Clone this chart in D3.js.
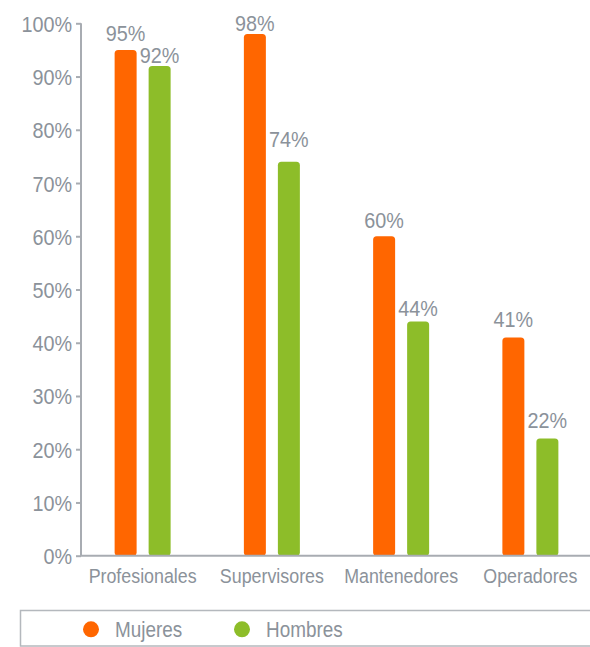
<!DOCTYPE html>
<html><head><meta charset="utf-8">
<script src="https://cdn.jsdelivr.net/npm/d3@7"></script>
<style>
body{margin:0;background:#fff;}
svg{display:block;}
text{font-family:"Liberation Sans",Arial,sans-serif;fill:#8b929a;}
</style></head>
<body>
<svg id="c" width="590" height="647"></svg>
<script>
const categories = ["Profesionales","Supervisores","Mantenedores","Operadores"];
const seriesNames = ["Mujeres","Hombres"];
const mujeres = [95,98,60,41];
const hombres = [92,74,44,22];
const yTicks = [0,10,20,30,40,50,60,70,80,90,100];
const colors = ["#ff6600","#8dbd29"];
// label gap above bar top, in px (layout only), [Mujeres, Hombres] per category
const labelGap = [[9,3],[3,15],[8,5],[10,11]];

const svg = d3.select("#c");
const y = d3.scaleLinear().domain([0,100]).range([555.7,23.3]);
const x = d3.scaleBand().domain(categories).range([78,595]).padding(0);
const inner = d3.scaleBand().domain(seriesNames).range([-28,28]).paddingInner(0.353).paddingOuter(0);

// place a horizontally condensed text at (px,py)
function narrow(sel, px, py, sx){
  sel.attr("x",0).attr("y",0).attr("transform","translate("+px+","+py+") scale("+sx+",1)");
  return sel;
}

const data = categories.map((c,i)=>({cat:c, vals:[mujeres[i],hombres[i]]}));

// bars
const g = svg.append("g");
data.forEach((d,i)=>{
  d.vals.forEach((v,j)=>{
    const bx = x(d.cat)+x.bandwidth()/2 + inner(seriesNames[j]);
    const w = inner.bandwidth();
    g.append("rect")
      .attr("x",bx).attr("y",y(v)).attr("width",w).attr("height",y(0)-y(v))
      .attr("rx",3.5).attr("ry",3.5)
      .attr("fill",colors[j]);
    const t = g.append("text")
      .attr("text-anchor","middle")
      .style("font-size","22px")
      .text(v+"%");
    narrow(t, bx+w/2, y(v)-labelGap[i][j], 0.9);
  });
});

// y axis
const yAxis = d3.axisLeft(y).tickValues(yTicks).tickSize(5).tickPadding(4).tickFormat(d=>d+"%");
const ya = svg.append("g").attr("transform","translate(81,0)").call(yAxis);
ya.select(".domain").attr("stroke","#a8acb2").attr("stroke-width",2).attr("d","M0,"+y(100)+"V"+y(0));
ya.selectAll(".tick line").attr("stroke","#a8acb2").attr("stroke-width",2);
ya.selectAll(".tick text").style("font-size","22px").attr("fill","#8b929a")
  .attr("dy",null)
  .each(function(){ narrow(d3.select(this), -9, 8, 0.9); });

// x axis
const xAxis = d3.axisBottom(x).tickSize(0).tickPadding(10);
const xa = svg.append("g").attr("transform","translate(0,"+y(0)+")").call(xAxis);
xa.select(".domain").attr("stroke","#a8acb2").attr("stroke-width",2).attr("d","M80,0H590");
xa.selectAll(".tick text").style("font-size","20.5px").attr("fill","#8b929a")
  .attr("dy",null)
  .each(function(){ narrow(d3.select(this), 0, 27.5, 0.87); });

// legend
svg.append("rect").attr("x",20.5).attr("y",610.5).attr("width",580).attr("height",35.5)
  .attr("fill","none").attr("stroke","#b4b8bd").attr("stroke-width",1.5);
const legX = [91,242];
seriesNames.forEach((n,j)=>{
  svg.append("circle").attr("cx",legX[j]).attr("cy",629.3).attr("r",8).attr("fill",colors[j]);
  const t = svg.append("text").style("font-size","22px").text(n);
  narrow(t, legX[j]+24, 637.3, 0.86);
});
</script>
</body></html>
